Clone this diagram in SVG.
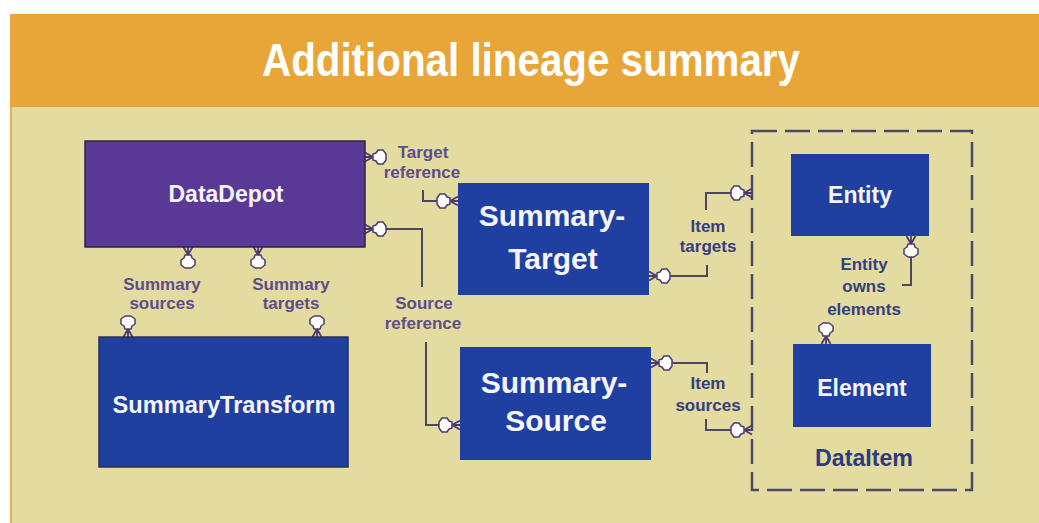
<svg xmlns="http://www.w3.org/2000/svg" xmlns:xlink="http://www.w3.org/1999/xlink" width="1039" height="523" viewBox="0 0 1039 523">
  <style>
    .title { font-family: "Liberation Sans", Arial, sans-serif; font-weight: bold; fill: #ffffff; }
    .box-purple { fill: #5A3896; stroke: #2E2540; stroke-width: 1.5; }
    .box-blue { fill: #1F40A0; stroke: #2A2F50; stroke-width: 1.5; }
    .box-blue-soft { fill: #1F40A0; }
    .name { font-family: "Liberation Sans", Arial, sans-serif; font-weight: bold; fill: #F4F4FA; text-anchor: middle; }
    .lbl { font-family: "Liberation Sans", Arial, sans-serif; font-weight: bold; font-size: 17px; text-anchor: middle; }
    .lbl-p { fill: #5E4C8C; }
    .lbl-b { fill: #34407E; }
    .wire { fill: none; stroke: #4E4560; stroke-width: 2; }
    .frame { fill: none; stroke: #4A4A66; stroke-width: 2.5; stroke-dasharray: 25 8; }
    .foot { fill: none; stroke: #4A3C70; stroke-width: 1.8; }
    .plug { fill: #FFFFFF; stroke: #4A3C70; stroke-width: 1.5; stroke-linejoin: round; }
  </style>
  <defs>
    <!-- relationship end: crow's foot touching the entity edge at the origin, connector arrives from -x -->
    <g id="end">
      <path class="foot" d="M-8,0 L0,-4.5 M-8,0 L0,4.5 M-8,0 L0,0"/>
      <path class="plug" d="M-21,-3 L-18,-7 L-13,-7 L-11,-4 L-8,-3 L-8,3 L-11,4 L-13,7 L-18,7 L-21,3 Z"/>
    </g>
  </defs>

  <!-- page -->
  <rect x="0" y="0" width="1039" height="523" fill="#FFFFFF"/>
  <rect x="10" y="107" width="1029" height="416" fill="#E3DBA0"/>
  <rect x="10" y="107" width="2" height="416" fill="#E6B24C"/>
  <rect x="10" y="14" width="1029" height="93" fill="#E9A638"/>
  <text class="title" x="262" y="76" font-size="47" textLength="538" lengthAdjust="spacingAndGlyphs">Additional lineage summary</text>

  <!-- DataItem package -->
  <g id="dataitem">
    <rect class="frame" x="752" y="131" width="220" height="359"/>
    <text class="name" x="864" y="466" font-size="23" style="fill:#2E3C7A" textLength="98" lengthAdjust="spacingAndGlyphs">DataItem</text>
  </g>

  <!-- connectors -->
  <g id="connectors">
    <!-- Target reference -->
    <use xlink:href="#end" transform="translate(365,157) rotate(180)"/>
    <path class="wire" d="M423,190 V201 H437"/>
    <use xlink:href="#end" transform="translate(458,201)"/>
    <!-- Source reference -->
    <use xlink:href="#end" transform="translate(365,229) rotate(180)"/>
    <path class="wire" d="M386,229 H422 V287"/>
    <path class="wire" d="M426,342 V425 H439"/>
    <use xlink:href="#end" transform="translate(460,425)"/>
    <!-- Summary sources -->
    <use xlink:href="#end" transform="translate(188,247) rotate(-90)"/>
    <use xlink:href="#end" transform="translate(128,337) rotate(90)"/>
    <!-- Summary targets -->
    <use xlink:href="#end" transform="translate(258,247) rotate(-90)"/>
    <use xlink:href="#end" transform="translate(317,337) rotate(90)"/>
    <!-- Item targets -->
    <use xlink:href="#end" transform="translate(649,276) rotate(180)"/>
    <path class="wire" d="M670,276 H707 V265"/>
    <path class="wire" d="M706,210 V193 H731"/>
    <use xlink:href="#end" transform="translate(752,193)"/>
    <!-- Item sources -->
    <use xlink:href="#end" transform="translate(651,363) rotate(180)"/>
    <path class="wire" d="M672,363 H707 V373"/>
    <path class="wire" d="M706,419 V430 H731"/>
    <use xlink:href="#end" transform="translate(752,430)"/>
    <!-- Entity owns elements -->
    <use xlink:href="#end" transform="translate(911,236) rotate(-90)"/>
    <path class="wire" d="M911,257 V285 H902"/>
    <use xlink:href="#end" transform="translate(826,344) rotate(90)"/>
  </g>

  <!-- connector labels -->
  <g id="labels">
    <text class="lbl lbl-p" x="423" y="158">Target</text>
    <text class="lbl lbl-p" x="422" y="178">reference</text>
    <text class="lbl lbl-p" x="424" y="309">Source</text>
    <text class="lbl lbl-p" x="423" y="329">reference</text>
    <text class="lbl lbl-p" x="162" y="290">Summary</text>
    <text class="lbl lbl-p" x="162" y="309">sources</text>
    <text class="lbl lbl-p" x="291" y="290">Summary</text>
    <text class="lbl lbl-p" x="291" y="309">targets</text>
    <text class="lbl lbl-b" x="708" y="232">Item</text>
    <text class="lbl lbl-b" x="708" y="252">targets</text>
    <text class="lbl lbl-b" x="708" y="389">Item</text>
    <text class="lbl lbl-b" x="708" y="411">sources</text>
    <text class="lbl lbl-b" x="864" y="270">Entity</text>
    <text class="lbl lbl-b" x="864" y="292">owns</text>
    <text class="lbl lbl-b" x="864" y="315">elements</text>
  </g>

  <!-- entities -->
  <g id="datadepot">
    <rect class="box-purple" x="85" y="141" width="280" height="106"/>
    <text class="name" x="226" y="202" font-size="23">DataDepot</text>
  </g>
  <g id="summarytransform">
    <rect class="box-blue" x="99" y="337" width="249" height="130"/>
    <text class="name" x="224" y="413" font-size="24" textLength="223" lengthAdjust="spacingAndGlyphs">SummaryTransform</text>
  </g>
  <g id="summarytarget">
    <rect class="box-blue-soft" x="458" y="183" width="191" height="112"/>
    <text class="name" x="552" y="226" font-size="30">Summary-</text>
    <text class="name" x="553" y="269" font-size="30">Target</text>
  </g>
  <g id="summarysource">
    <rect class="box-blue-soft" x="460" y="347" width="191" height="113"/>
    <text class="name" x="554" y="393" font-size="30">Summary-</text>
    <text class="name" x="556" y="431" font-size="30">Source</text>
  </g>
  <g id="entity">
    <rect class="box-blue-soft" x="791" y="154" width="138" height="82"/>
    <text class="name" x="860" y="203" font-size="23">Entity</text>
  </g>
  <g id="element">
    <rect class="box-blue-soft" x="793" y="344" width="138" height="83"/>
    <text class="name" x="862" y="396" font-size="23">Element</text>
  </g>
</svg>
